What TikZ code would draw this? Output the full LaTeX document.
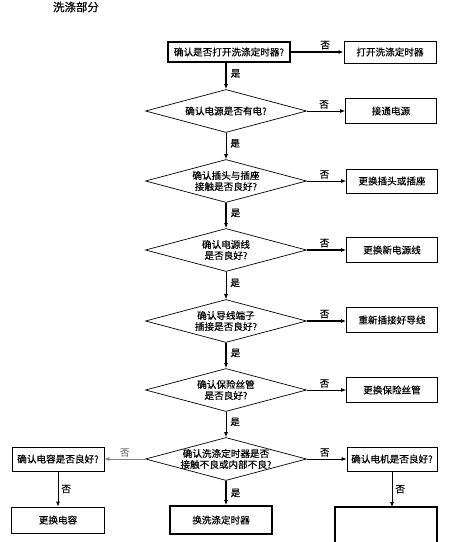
\documentclass[tikz,border=0pt]{standalone}
\usepackage{fontspec}
\newfontfamily\cjk[FakeBold=0.4]{Noto Sans CJK SC}
\usetikzlibrary{shapes.geometric,arrows.meta}
\begin{document}
\begin{tikzpicture}[x=1pt,y=-1pt,
  txt/.style={font=\cjk\fontsize{9.6}{11}\selectfont, align=center, inner sep=0},
  box/.style={txt, draw, line width=0.8pt, minimum width=91pt, minimum height=24pt},
  tbox/.style={box, line width=1.8pt},
  dia/.style={draw, diamond, line width=0.7pt, minimum width=161pt, minimum height=43pt, inner sep=0},
  arr/.style={-{Latex[length=5pt,width=4pt]}, line width=0.8pt},
  tarr/.style={arr, line width=1.5pt},
  lab/.style={font=\cjk\fontsize{9.6}{10}\selectfont, inner sep=0}
]
\useasboundingbox (0,0) rectangle (454,542);
\node[font=\cjk\fontsize{11.5}{13}\selectfont, inner sep=0] (title) at (76,7) {洗涤部分};

\node[tbox, minimum width=122pt, minimum height=20pt] (b1) at (229,52) {确认是否打开洗涤定时器?};
\node[box, minimum width=92pt, minimum height=22pt] (r1) at (390,52) {打开洗涤定时器};

\node[dia] (d2) at (226,111) {};
\node[txt] (d2t) at (d2) {确认电源是否有电?};
\node[box, minimum height=25pt] (r2) at (391,111) {接通电源};

\node[dia] (d3) at (226,181) {};
\node[txt] (d3t) at (d3) {确认插头与插座\\接触是否良好?};
\node[box] (r3) at (392,181) {更换插头或插座};

\node[dia] (d4) at (226,250) {};
\node[txt] (d4t) at (d4) {确认电源线\\是否良好?};
\node[box, minimum height=25pt] (r4) at (392,250) {更换新电源线};

\node[dia] (d5) at (226,321) {};
\node[txt] (d5t) at (d5) {确认导线端子\\插接是否良好?};
\node[box, minimum height=25pt] (r5) at (392,320) {重新插接好导线};

\node[dia] (d6) at (226,390) {};
\node[txt] (d6t) at (d6) {确认保险丝管\\是否良好?};
\node[box, minimum height=25pt] (r6) at (392,390) {更换保险丝管};

\node[dia] (d7) at (226,459) {};
\node[txt] (d7t) at (d7) {确认洗涤定时器是否\\接触不良或内部不良?};
\node[box, minimum width=92pt] (l7) at (58,459) {确认电容是否良好?};
\node[box, minimum width=90pt] (r7) at (392,459) {确认电机是否良好?};

\node[box, minimum width=93pt, minimum height=26pt] (l8) at (58,520) {更换电容};
\node[tbox, minimum width=102pt, minimum height=28pt] (c8) at (221,520) {换洗涤定时器};
\coordinate (r8) at (392,507);
\draw[line width=1.8pt] (335,542) -- (335,507) -- (437,507) -- (437,542);

% horizontal "no" arrows
\draw[tarr] (b1.east) -- (r1.west) node[lab, pos=0.65, above=2pt] {否};
\draw[arr] (d2.east) -- (d2.east -| r2.west) node[lab, pos=0.45, above=2pt] {否};
\draw[arr] (d3.east) -- (d3.east -| r3.west) node[lab, pos=0.45, above=2pt] {否};
\draw[tarr] (d4.east) -- (d4.east -| r4.west) node[lab, pos=0.45, above=2pt] {否};
\draw[tarr] (d5.east) -- (d5.east -| r5.west) node[lab, pos=0.45, above=2pt] {否};
\draw[arr] (d6.east) -- (d6.east -| r6.west) node[lab, pos=0.45, above=2pt] {否};
\draw[arr] (d7.east) -- (d7.east -| r7.west) node[lab, pos=0.45, above=2pt] {否};
\draw[arr, draw=gray, -{Latex[length=5pt,width=4pt,fill=gray]}] (d7.west) -- (d7.west -| l7.east) node[lab, pos=0.5, above=2pt, text=gray] {否};

% vertical "yes" arrows
\draw[tarr] (b1.south -| d2.north) -- (d2.north) node[lab, pos=0.4, right=4pt] {是};
\draw[arr] (d2.south) -- (d3.north) node[lab, pos=0.4, right=4pt] {是};
\draw[tarr] (d3.south) -- (d4.north) node[lab, pos=0.4, right=4pt] {是};
\draw[arr] (d4.south) -- (d5.north) node[lab, pos=0.4, right=4pt] {是};
\draw[tarr] (d5.south) -- (d6.north) node[lab, pos=0.4, right=4pt] {是};
\draw[arr] (d6.south) -- (d7.north) node[lab, pos=0.4, right=4pt] {是};
\draw[tarr] (d7.south) -- (d7.south |- c8.north) node[lab, midway, right=4pt] {是};

% vertical "no" arrows
\draw[arr] (l7.south) -- (l8.north) node[lab, midway, right=3pt] {否};
\draw[arr] (r7.south) -- (r8) node[lab, midway, right=3pt] {否};
\end{tikzpicture}
\end{document}
